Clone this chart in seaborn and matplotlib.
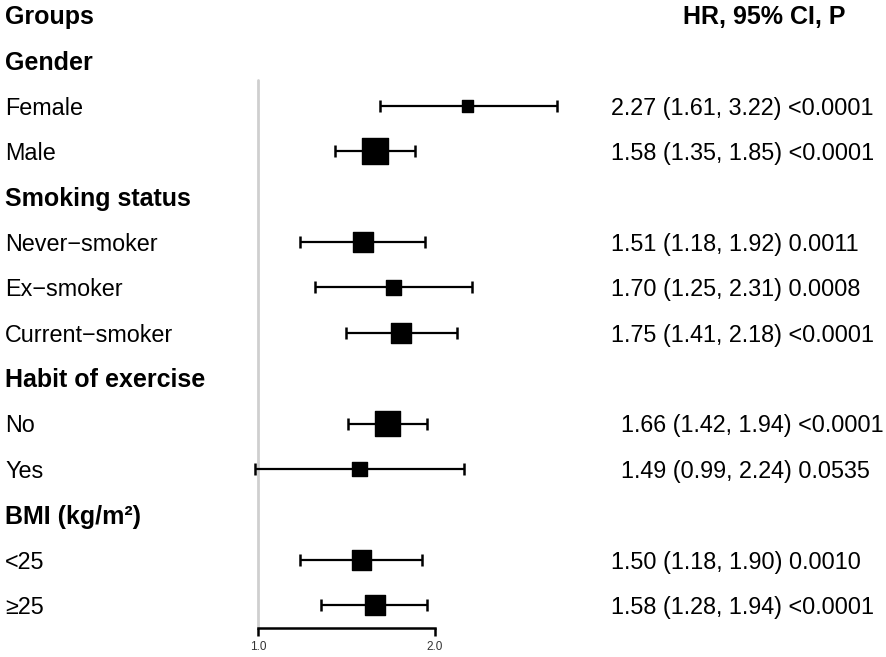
import numpy as np
import pandas as pd
import matplotlib
matplotlib.use("Agg")
import matplotlib.pyplot as plt
import matplotlib.transforms as mtransforms
from matplotlib.ticker import NullLocator
import seaborn as sns

# rows of the table, top to bottom
groups = ["Gender", "Smoking status", "Habit of exercise", "BMI (kg/m²)"]
subgroups = [
    ["Female", "Male"],
    ["Never\u2212smoker", "Ex\u2212smoker", "Current\u2212smoker"],
    ["No", "Yes"],
    ["<25", "≥25"],
]
hr = [2.27, 1.58, 1.51, 1.70, 1.75, 1.66, 1.49, 1.50, 1.58]
ci_low = [1.61, 1.35, 1.18, 1.25, 1.41, 1.42, 0.99, 1.18, 1.28]
ci_high = [3.22, 1.85, 1.92, 2.31, 2.18, 1.94, 2.24, 1.90, 1.94]
p_values = ["<0.0001", "<0.0001", "0.0011", "0.0008", "<0.0001",
            "<0.0001", "0.0535", "0.0010", "<0.0001"]
# relative weight of each subgroup (drives box size)
weight = [17, 73, 44, 29, 44, 73, 26, 44, 48]

# build the table rows
rows = []
i = 0
for g, subs in zip(groups, subgroups):
    rows.append(dict(label=g, header=True, group=g))
    for s in subs:
        rows.append(dict(label=s, header=False, group=g, hr=hr[i], lo=ci_low[i],
                         hi=ci_high[i], p=p_values[i], w=weight[i]))
        i += 1
df = pd.DataFrame(rows)
df["row"] = np.arange(len(df)) + 1
est = df[~df["header"]].copy()

sns.set_theme(style="white")
plt.rcParams["font.family"] = ["Liberation Sans", "DejaVu Sans"]
plt.rcParams["text.color"] = "black"

W, H = 886, 657
fig = plt.figure(figsize=(W / 100, H / 100), dpi=100)
ax_bottom_px = 628
ax = fig.add_axes([0, (H - ax_bottom_px) / H, 1, ax_bottom_px / H])

# pixel <-> data mapping
x_one, px_per_doubling = 258, 177
row0_px, row_step = 15, 45.4
ax.set_xscale("log", base=2)
ax.set_xlim(2 ** ((0 - x_one) / px_per_doubling), 2 ** ((W - x_one) / px_per_doubling))
ax.set_ylim((ax_bottom_px - row0_px) / row_step, -row0_px / row_step)

# reference line at HR = 1
ax.axvline(1.0, ymin=0, ymax=(ax_bottom_px - 80) / ax_bottom_px,
           color="#cfcfcf", lw=2, zorder=1)

# confidence intervals
ax.errorbar(est["hr"], est["row"],
            xerr=[est["hr"] - est["lo"], est["hi"] - est["hr"]],
            fmt="none", ecolor="black", elinewidth=1.6, capsize=4.5,
            capthick=1.8, zorder=2)

# boxes
side_pt = np.sqrt(est["w"] * 10) / (100 / 72) - 1
sns.scatterplot(x=est["hr"], y=est["row"], marker="s", s=side_pt ** 2,
                color="black", edgecolor="black", linewidth=1,
                ax=ax, zorder=3, legend=False)

# axis styling
for side in ["top", "left", "right"]:
    ax.spines[side].set_visible(False)
ax.spines["bottom"].set_bounds(1, 2)
ax.spines["bottom"].set_linewidth(1.8)
ax.spines["bottom"].set_color("black")
ax.set_xticks([1, 2])
ax.set_xticklabels(["1.0", "2.0"])
ax.xaxis.set_minor_locator(NullLocator())
ax.tick_params(axis="x", direction="out", length=5.5, width=1.8, color="black",
               labelsize=8.5, labelcolor="#333333", pad=4, bottom=True)
ax.set_yticks([])
ax.set_xlabel("")
ax.set_ylabel("")

# text columns
tr = mtransforms.blended_transform_factory(ax.transAxes, ax.transData)
left_x = 5 / W
dy = 0.05
bold_size, reg_size = 18, 16.8
ax.text(left_x, dy, "Groups", transform=tr, fontsize=bold_size,
        fontweight="bold", va="center", ha="left")
ax.text(683 / W, dy, "HR, 95% CI, P", transform=tr, fontsize=bold_size,
        fontweight="bold", va="center", ha="left")
for _, r in df.iterrows():
    if r["header"]:
        ax.text(left_x, r["row"] + dy, r["label"], transform=tr,
                fontsize=bold_size, fontweight="bold", va="center", ha="left")
    else:
        ax.text(left_x, r["row"] + dy, r["label"], transform=tr,
                fontsize=reg_size, va="center", ha="left")
        txt = f"{r['hr']:.2f} ({r['lo']:.2f}, {r['hi']:.2f}) {r['p']}"
        tx = 621 if r["group"] == "Habit of exercise" else 611
        ax.text(tx / W, r["row"] + dy, txt, transform=tr, fontsize=reg_size,
                va="center", ha="left")

fig.savefig("out.png", dpi=100, facecolor="white")
